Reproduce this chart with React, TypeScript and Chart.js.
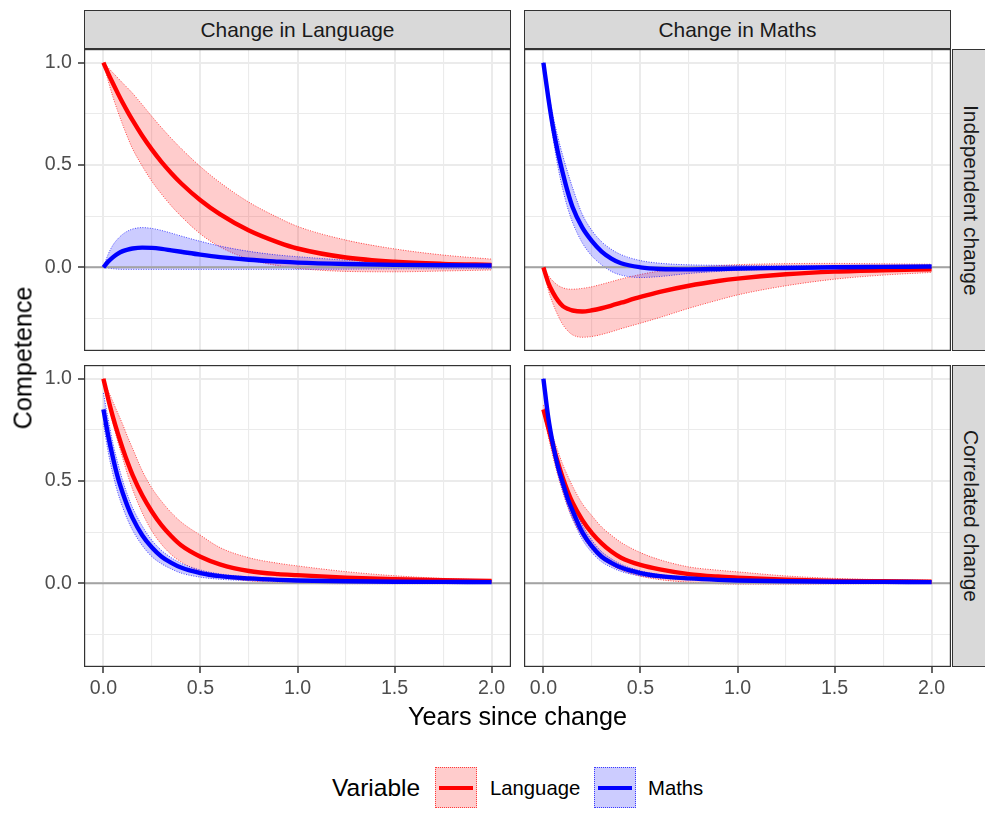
import React, { useEffect, useRef } from 'react';
import { Chart, registerables } from 'chart.js';

Chart.register(...registerables);

const FONT = '"Liberation Sans", Arial, Helvetica, sans-serif';

// ---- data ----
const X_VALUES = [0, 0.025, 0.05, 0.075, 0.1, 0.125, 0.15, 0.2, 0.25, 0.3, 0.35, 0.4, 0.5, 0.6, 0.75, 0.9, 1.0, 1.25, 1.5, 1.75, 2.0];

// Independent change / Change in Language
const indLangLanguage = [1.0, 0.947, 0.897, 0.849, 0.803, 0.76, 0.719, 0.643, 0.575, 0.514, 0.46, 0.411, 0.328, 0.26, 0.18, 0.122, 0.092, 0.048, 0.027, 0.017, 0.012];
const indLangLanguageHi = [1.0, 0.975, 0.95, 0.925, 0.9, 0.876, 0.851, 0.795, 0.737, 0.682, 0.63, 0.581, 0.492, 0.415, 0.318, 0.243, 0.2, 0.133, 0.09, 0.06, 0.04];
const indLangLanguageLo = [1.0, 0.91, 0.83, 0.76, 0.695, 0.635, 0.58, 0.495, 0.42, 0.357, 0.3, 0.25, 0.163, 0.1, 0.04, 0.008, -0.005, -0.02, -0.022, -0.018, -0.013];
const indLangMaths = [0, 0.028, 0.05, 0.067, 0.079, 0.087, 0.092, 0.096, 0.095, 0.09, 0.083, 0.076, 0.062, 0.05, 0.037, 0.028, 0.023, 0.016, 0.012, 0.01, 0.009];
const indLangMathsHi = [0, 0.065, 0.11, 0.14, 0.162, 0.177, 0.187, 0.194, 0.19, 0.18, 0.167, 0.153, 0.127, 0.104, 0.078, 0.06, 0.052, 0.035, 0.023, 0.015, 0.011];
const indLangMathsLo = [0, -0.004, -0.007, -0.009, -0.01, -0.01, -0.01, -0.01, -0.01, -0.01, -0.01, -0.01, -0.01, -0.01, -0.01, -0.01, -0.01, -0.009, -0.008, -0.007, -0.006];

// Independent change / Change in Maths
const indMathLanguage = [0, -0.075, -0.125, -0.163, -0.19, -0.203, -0.211, -0.216, -0.21, -0.2, -0.187, -0.173, -0.145, -0.12, -0.09, -0.067, -0.055, -0.034, -0.021, -0.014, -0.01];
const indMathLanguageHi = [0, -0.04, -0.068, -0.088, -0.1, -0.106, -0.107, -0.103, -0.095, -0.083, -0.07, -0.057, -0.035, -0.018, -0.002, 0.008, 0.013, 0.018, 0.019, 0.017, 0.015];
const indMathLanguageLo = [0, -0.11, -0.18, -0.235, -0.28, -0.31, -0.33, -0.342, -0.338, -0.328, -0.315, -0.3, -0.273, -0.245, -0.2, -0.16, -0.135, -0.09, -0.058, -0.038, -0.025];
const indMathMaths = [1.0, 0.83, 0.68, 0.56, 0.46, 0.37, 0.295, 0.195, 0.128, 0.077, 0.043, 0.02, 0.0, -0.008, -0.01, -0.008, -0.006, -0.003, 0.0, 0.002, 0.004];
const indMathMathsHi = [1.0, 0.86, 0.74, 0.635, 0.545, 0.465, 0.39, 0.26, 0.18, 0.125, 0.088, 0.062, 0.033, 0.02, 0.012, 0.01, 0.009, 0.008, 0.008, 0.008, 0.008];
const indMathMathsLo = [1.0, 0.8, 0.63, 0.49, 0.38, 0.29, 0.22, 0.12, 0.055, 0.012, -0.02, -0.038, -0.05, -0.045, -0.03, -0.02, -0.015, -0.008, -0.004, -0.002, 0.0];

// Correlated change / Change in Language
const corLangLanguage = [1.0, 0.9, 0.81, 0.73, 0.657, 0.59, 0.53, 0.43, 0.35, 0.283, 0.23, 0.186, 0.13, 0.093, 0.06, 0.045, 0.04, 0.028, 0.02, 0.015, 0.012];
const corLangLanguageHi = [1.0, 0.94, 0.885, 0.83, 0.775, 0.715, 0.66, 0.55, 0.465, 0.4, 0.345, 0.3, 0.235, 0.175, 0.125, 0.098, 0.085, 0.057, 0.037, 0.024, 0.016];
const corLangLanguageLo = [1.0, 0.88, 0.78, 0.69, 0.61, 0.53, 0.46, 0.345, 0.255, 0.19, 0.14, 0.105, 0.058, 0.032, 0.012, 0.004, 0.001, -0.002, -0.002, -0.002, -0.001];
const corLangMaths = [0.85, 0.72, 0.61, 0.515, 0.44, 0.375, 0.32, 0.235, 0.175, 0.13, 0.1, 0.077, 0.05, 0.035, 0.024, 0.017, 0.014, 0.01, 0.008, 0.007, 0.006];
const corLangMathsHi = [0.93, 0.8, 0.68, 0.585, 0.5, 0.43, 0.37, 0.28, 0.21, 0.16, 0.125, 0.098, 0.065, 0.046, 0.031, 0.023, 0.019, 0.013, 0.01, 0.009, 0.008];
const corLangMathsLo = [0.78, 0.64, 0.53, 0.44, 0.37, 0.31, 0.26, 0.185, 0.13, 0.095, 0.07, 0.05, 0.03, 0.02, 0.013, 0.009, 0.007, 0.005, 0.004, 0.004, 0.003];

// Correlated change / Change in Maths
const corMathLanguage = [0.85, 0.76, 0.67, 0.59, 0.515, 0.45, 0.395, 0.31, 0.245, 0.195, 0.155, 0.125, 0.09, 0.068, 0.045, 0.033, 0.028, 0.018, 0.012, 0.01, 0.008];
const corMathLanguageHi = [0.87, 0.79, 0.715, 0.645, 0.58, 0.525, 0.475, 0.39, 0.33, 0.275, 0.235, 0.2, 0.15, 0.115, 0.08, 0.064, 0.056, 0.036, 0.024, 0.018, 0.015];
const corMathLanguageLo = [0.83, 0.72, 0.615, 0.525, 0.445, 0.375, 0.315, 0.23, 0.165, 0.12, 0.088, 0.065, 0.035, 0.018, 0.005, -0.002, -0.004, -0.004, -0.003, -0.002, -0.001];
const corMathMaths = [1.0, 0.81, 0.675, 0.57, 0.49, 0.415, 0.355, 0.25, 0.18, 0.13, 0.1, 0.077, 0.05, 0.035, 0.024, 0.017, 0.014, 0.01, 0.008, 0.007, 0.006];
const corMathMathsHi = [1.0, 0.83, 0.7, 0.6, 0.52, 0.45, 0.39, 0.285, 0.21, 0.155, 0.12, 0.093, 0.061, 0.043, 0.03, 0.022, 0.018, 0.013, 0.01, 0.009, 0.008];
const corMathMathsLo = [1.0, 0.79, 0.645, 0.535, 0.45, 0.375, 0.315, 0.215, 0.15, 0.105, 0.078, 0.058, 0.036, 0.025, 0.017, 0.012, 0.01, 0.007, 0.005, 0.005, 0.004];

const X_TICKS = [0, 0.25, 0.5, 0.75, 1, 1.25, 1.5, 1.75, 2];
const X_MAJOR = [0, 0.5, 1, 1.5, 2];
const Y_TICKS = [-0.25, 0, 0.25, 0.5, 0.75, 1];
const Y_MAJOR = [0, 0.5, 1];
const X_LIMITS = [-0.1, 2.1];
const Y_LIMITS = [-0.409, 1.067];
const ZERO_LINE_X = [-0.1, 2.1];

const COL_TITLES = ['Change in Language', 'Change in Maths'];
const ROW_TITLES = ['Independent change', 'Correlated change'];
const SERIES_NAMES = ['Language', 'Maths'];

// ---- styling ----
const RED = '#FF0000';
const BLUE = '#0000FF';
const RED_FILL = 'rgba(255,0,0,0.2)';
const BLUE_FILL = 'rgba(0,0,255,0.2)';
const RED_EDGE = 'rgba(255,0,0,0.7)';
const BLUE_EDGE = 'rgba(0,0,255,0.7)';

const isIn = (arr: number[], v: number) => arr.some((a) => Math.abs(a - v) < 1e-9);

const panelBorder = {
  id: 'panelBorder',
  afterDraw(chart: any) {
    const { ctx, chartArea } = chart;
    const { left, top, right, bottom } = chartArea;
    ctx.save();
    ctx.strokeStyle = '#333333';
    ctx.lineWidth = 1.2;
    ctx.strokeRect(left + 0.6, top + 0.6, right - left - 1.2, bottom - top - 1.2);
    ctx.restore();
  },
};

type Series = { line: number[]; hi: number[]; lo: number[] };

function Panel(props: {
  left: number; top: number; width: number; height: number;
  showX: boolean; showY: boolean; language: Series; maths: Series;
}) {
  const ref = useRef<HTMLCanvasElement>(null);
  const { left, top, width, height, showX, showY, language, maths } = props;
  useEffect(() => {
    const canvas = ref.current!;
    const pts = (ys: number[]) => X_VALUES.map((x, i) => ({ x, y: ys[i] }));
    const lineDs = (label: string, ys: number[], color: string, order: number) => ({
      label, data: pts(ys), borderColor: color, borderWidth: 4.4, pointRadius: 0,
      fill: false, order, cubicInterpolationMode: 'monotone', borderCapStyle: 'butt',
    });
    const bandDs = (label: string, ys: number[], edge: string, fillCol: string, fill: any, order: number) => ({
      label, data: pts(ys), borderColor: edge, borderWidth: 1, borderDash: [1, 1.5],
      backgroundColor: fillCol, pointRadius: 0, fill, order, cubicInterpolationMode: 'monotone',
    });
    const chart = new Chart(canvas, {
      type: 'line',
      data: {
        datasets: [
          lineDs(SERIES_NAMES[1], maths.line, BLUE, 0),
          lineDs(SERIES_NAMES[0], language.line, RED, 1),
          {
            label: 'zero', data: ZERO_LINE_X.map((x) => ({ x, y: 0 })), borderColor: '#A3A3A3',
            borderWidth: 2, pointRadius: 0, fill: false, order: 2,
          },
          bandDs('Maths upper', maths.hi, BLUE_EDGE, BLUE_FILL, '+1', 3),
          bandDs('Maths lower', maths.lo, BLUE_EDGE, BLUE_FILL, false, 4),
          bandDs('Language upper', language.hi, RED_EDGE, RED_FILL, '+1', 5),
          bandDs('Language lower', language.lo, RED_EDGE, RED_FILL, false, 6),
        ] as any,
      },
      options: {
        responsive: false,
        maintainAspectRatio: false,
        animation: false,
        events: [],
        layout: { padding: 0 },
        plugins: { legend: { display: false }, tooltip: { enabled: false } },
        scales: {
          x: {
            type: 'linear',
            min: X_LIMITS[0],
            max: X_LIMITS[1],
            afterBuildTicks: (s: any) => { s.ticks = X_TICKS.map((v) => ({ value: v })); },
            afterFit: (s: any) => { s.height = showX ? 45 : 0; s.paddingLeft = 0; s.paddingRight = 0; },
            border: { display: false },
            grid: {
              color: '#EBEBEB',
              lineWidth: (c: any) => (isIn(X_MAJOR, c.tick?.value) ? 2 : 1.1),
              drawTicks: showX,
              tickLength: 6,
              tickWidth: 1.5,
              tickColor: (c: any) => (isIn(X_MAJOR, c.tick?.value) ? '#333333' : 'rgba(0,0,0,0)'),
            },
            ticks: {
              display: showX,
              autoSkip: false,
              maxRotation: 0,
              padding: 4,
              color: '#4D4D4D',
              font: { family: FONT, size: 19.6 },
              callback: (v: any) => (isIn(X_MAJOR, Number(v)) ? Number(v).toFixed(1) : ''),
            },
          },
          y: {
            type: 'linear',
            min: Y_LIMITS[0],
            max: Y_LIMITS[1],
            afterBuildTicks: (s: any) => { s.ticks = Y_TICKS.map((v) => ({ value: v })); },
            afterFit: (s: any) => { s.width = showY ? 84 : 0; s.paddingTop = 0; s.paddingBottom = 0; },
            border: { display: false },
            grid: {
              color: '#EBEBEB',
              lineWidth: (c: any) => (isIn(Y_MAJOR, c.tick?.value) ? 2 : 1.1),
              drawTicks: showY,
              tickLength: 6,
              tickWidth: 1.5,
              tickColor: (c: any) => (isIn(Y_MAJOR, c.tick?.value) ? '#333333' : 'rgba(0,0,0,0)'),
            },
            ticks: {
              display: showY,
              autoSkip: false,
              padding: 6,
              color: '#4D4D4D',
              font: { family: FONT, size: 19.6 },
              callback: (v: any) => (isIn(Y_MAJOR, Number(v)) ? Number(v).toFixed(1) : ''),
            },
          },
        },
      } as any,
      plugins: [panelBorder],
    });
    return () => chart.destroy();
  }, []);
  return (
    <canvas
      ref={ref}
      width={width}
      height={height}
      style={{ position: 'absolute', left, top, width, height, display: 'block' }}
    />
  );
}

const stripStyle: React.CSSProperties = {
  position: 'absolute',
  background: '#D9D9D9',
  border: '1.2px solid #333333',
  boxSizing: 'border-box',
  display: 'flex',
  alignItems: 'center',
  justifyContent: 'center',
  color: '#1A1A1A',
  fontFamily: FONT,
  fontSize: 20.9,
};

function LegendKey(props: { left: number; fill: string; edge: string; color: string }) {
  return (
    <div
      style={{
        position: 'absolute', left: props.left, top: 767, width: 42, height: 41,
        background: props.fill, border: `1px dotted ${props.edge}`, boxSizing: 'border-box',
      }}
    >
      <div style={{ position: 'absolute', left: 3, right: 3, top: 18, height: 4.4, background: props.color }} />
    </div>
  );
}

export default function App() {
  const band = (line: number[], hi: number[], lo: number[]): Series => ({ line, hi, lo });
  return (
    <div
      style={{
        position: 'absolute', left: 0, top: 0, width: 985, height: 815,
        background: '#FFFFFF', overflow: 'hidden', fontFamily: FONT,
      }}
    >
      {/* column strips */}
      <div style={{ ...stripStyle, left: 84, top: 10, width: 427, height: 39 }}>{COL_TITLES[0]}</div>
      <div style={{ ...stripStyle, left: 524, top: 10, width: 427, height: 39 }}>{COL_TITLES[1]}</div>
      {/* row strips */}
      <div style={{ ...stripStyle, left: 952, top: 49, width: 38, height: 302 }}>
        <span style={{ writingMode: 'vertical-rl' }}>{ROW_TITLES[0]}</span>
      </div>
      <div style={{ ...stripStyle, left: 952, top: 365, width: 38, height: 302 }}>
        <span style={{ writingMode: 'vertical-rl' }}>{ROW_TITLES[1]}</span>
      </div>

      <Panel left={0} top={49} width={511} height={302} showX={false} showY={true}
        language={band(indLangLanguage, indLangLanguageHi, indLangLanguageLo)}
        maths={band(indLangMaths, indLangMathsHi, indLangMathsLo)} />
      <Panel left={524} top={49} width={427} height={302} showX={false} showY={false}
        language={band(indMathLanguage, indMathLanguageHi, indMathLanguageLo)}
        maths={band(indMathMaths, indMathMathsHi, indMathMathsLo)} />
      <Panel left={0} top={365} width={511} height={347} showX={true} showY={true}
        language={band(corLangLanguage, corLangLanguageHi, corLangLanguageLo)}
        maths={band(corLangMaths, corLangMathsHi, corLangMathsLo)} />
      <Panel left={524} top={365} width={427} height={347} showX={true} showY={false}
        language={band(corMathLanguage, corMathLanguageHi, corMathLanguageLo)}
        maths={band(corMathMaths, corMathMathsHi, corMathMathsLo)} />

      {/* axis titles */}
      <div
        style={{
          position: 'absolute', left: 23, top: 358, transform: 'translate(-50%, -50%) rotate(-90deg)',
          fontSize: 25.2, color: '#000000', whiteSpace: 'nowrap',
        }}
      >
        Competence
      </div>
      <div
        style={{
          position: 'absolute', left: 517.5, top: 716, transform: 'translate(-50%, -50%)',
          fontSize: 25.2, color: '#000000', whiteSpace: 'nowrap',
        }}
      >
        Years since change
      </div>

      {/* legend */}
      <div style={{ position: 'absolute', left: 332, top: 788, transform: 'translateY(-50%)', fontSize: 24.5, color: '#000000' }}>
        Variable
      </div>
      <LegendKey left={435} fill={RED_FILL} edge={RED_EDGE} color={RED} />
      <div style={{ position: 'absolute', left: 490, top: 788, transform: 'translateY(-50%)', fontSize: 20.3, color: '#000000' }}>
        {SERIES_NAMES[0]}
      </div>
      <LegendKey left={594} fill={BLUE_FILL} edge={BLUE_EDGE} color={BLUE} />
      <div style={{ position: 'absolute', left: 648, top: 788, transform: 'translateY(-50%)', fontSize: 20.3, color: '#000000' }}>
        {SERIES_NAMES[1]}
      </div>
    </div>
  );
}
